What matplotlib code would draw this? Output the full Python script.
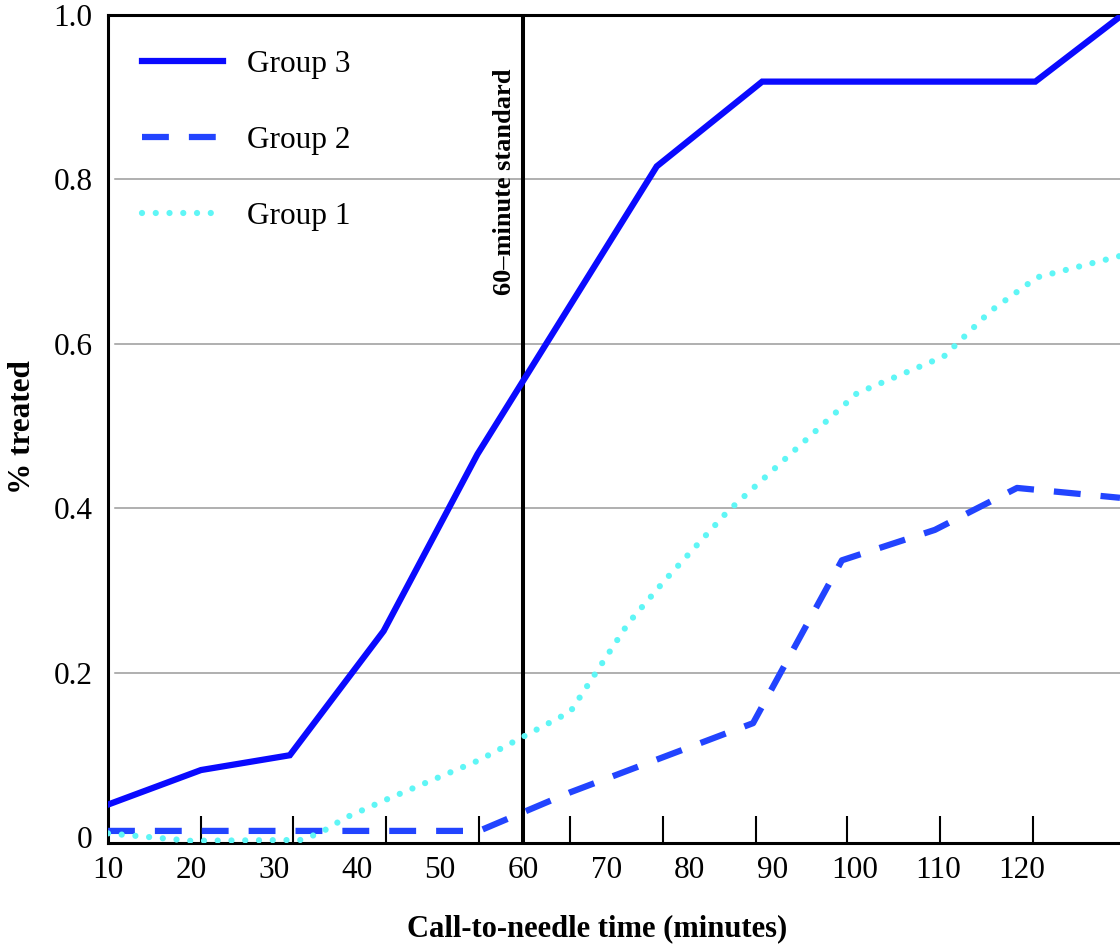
import matplotlib
matplotlib.use("Agg")
import matplotlib.pyplot as plt
from matplotlib.lines import Line2D

# --- datos ---
g3_x = [10.0, 21.2, 31.9, 43.2, 54.5, 76.1, 88.8, 121.7, 131.9]
g3_y = [0.040, 0.082, 0.100, 0.251, 0.466, 0.816, 0.919, 0.919, 0.998]

g2_x = [10.0, 54.7, 65.7, 87.7, 98.4, 109.6, 119.5, 131.9]
g2_y = [0.008, 0.008, 0.055, 0.139, 0.337, 0.374, 0.425, 0.413]

g1_x = [10.0, 19.9, 33.4, 35.8, 38.6, 43.5, 54.7, 65.7, 72.7, 77.1, 84.6,
        100.2, 110.7, 116.3, 121.9, 131.9]
g1_y = [0.005, -0.004, -0.003, 0.007, 0.024, 0.046, 0.094, 0.153, 0.261,
        0.313, 0.396, 0.540, 0.585, 0.640, 0.681, 0.707]

x_labels = [10, 20, 30, 40, 50, 60, 70, 80, 90, 100, 110, 120]
x_marks = [21.2, 32.3, 43.5, 54.7, 65.7, 76.9, 88.1, 99.0, 110.2, 121.4]
y_ticks = [0, 0.2, 0.4, 0.6, 0.8, 1.0]
y_tick_labels = ["0", "0.2", "0.4", "0.6", "0.8", "1.0"]
grid_levels = [0.2, 0.4, 0.6, 0.8]
standard_min = 60

SERIF = "Liberation Serif"
C_G3 = "#0a0aff"
C_G2 = "#2244ff"
C_G1 = "#5ff6f6"

plt.rcParams["font.family"] = SERIF

W, H = 1120, 944
fig = plt.figure(figsize=(W / 100, H / 100), dpi=100)
ax = fig.add_axes([108 / W, 1 - 843 / H, 1 - 108 / W, (843 - 15) / H])

ax.set_xlim(10, 131.9)
ax.set_ylim(-0.0067, 1.0)

# lineas de cuadricula (solo interiores)
for g in grid_levels:
    ax.axhline(g, color="#9a9a9a", lw=1.1, xmin=0.007, zorder=1)

# estandar de 60 minutos
ax.axvline(standard_min, color="black", lw=2.9, zorder=3)
ax.text(57.8, 0.935, "60–minute standard", rotation=90, ha="center", va="top",
        fontsize=19, fontweight="bold", family=SERIF)

# series
LS_G2 = (0, (4.3, 3.2))
LS_G1 = (0, (0.001, 2.2))
ax.plot(g3_x, g3_y, color=C_G3, lw=4.5, solid_joinstyle="miter", zorder=4)
ax.plot(g2_x, g2_y, color=C_G2, lw=4.5, ls=LS_G2, dash_capstyle="butt", zorder=4)
ax.plot(g1_x, g1_y, color=C_G1, lw=4.5, ls=LS_G1, dash_capstyle="round", zorder=4)

# ejes
for s in ["top", "left", "bottom"]:
    ax.spines[s].set_linewidth(2.2)
    ax.spines[s].set_color("black")
ax.spines["right"].set_visible(False)

ax.set_xticks(x_labels)
ax.set_xticklabels([str(v) for v in x_labels])
ax.set_xticks(x_marks, minor=True)
ax.tick_params(axis="x", which="major", length=0, pad=9, labelsize=22.5)
ax.tick_params(axis="x", which="minor", direction="in", length=19.4,
               width=1.5, color="black")
ax.set_yticks(y_ticks)
ax.set_yticklabels(y_tick_labels)
ax.tick_params(axis="y", length=0, pad=11, labelsize=22.5)

# leyenda
handles = [
    Line2D([], [], color=C_G3, lw=4.5),
    Line2D([], [], color=C_G2, lw=4.5, ls=LS_G2, dash_capstyle="butt"),
    Line2D([], [], color=C_G1, lw=4.5, ls=LS_G1, dash_capstyle="round"),
]
ax.legend(handles, ["Group 3", "Group 2", "Group 1"], loc="upper left",
          bbox_to_anchor=(0.0336, 0.958), frameon=False, fontsize=22.5,
          handlelength=2.6, handletextpad=0.75, labelspacing=1.5, borderpad=0,
          borderaxespad=0)

# titulos de ejes
fig.text(597 / W, 1 - 936 / H, "Call-to-needle time (minutes)", ha="center",
         va="baseline", fontsize=22, fontweight="bold")
fig.text(23 / W, 1 - 427 / H, "% treated", rotation=90, ha="center",
         va="center", fontsize=22.5, fontweight="bold")

fig.savefig("out.png", dpi=100)
